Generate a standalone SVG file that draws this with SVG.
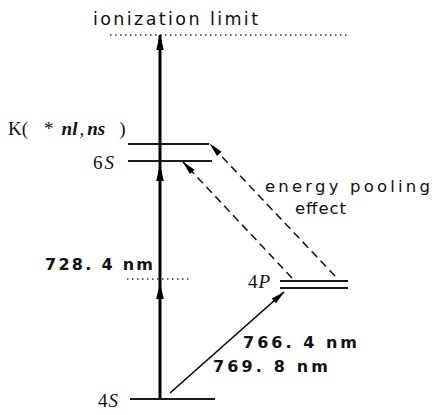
<svg xmlns="http://www.w3.org/2000/svg" width="435" height="415" viewBox="0 0 435 415">
<defs>
<style>
.lvl{stroke:#1a1a1a;stroke-width:2;fill:none}
.dot{stroke:#333;stroke-width:1.3;stroke-dasharray:1.5 3.5;fill:none}
.dash{stroke:#111;stroke-width:1.5;stroke-dasharray:8 5;fill:none}
.lab{font-family:"DejaVu Sans","Liberation Sans",sans-serif;fill:#111}
.ser{font-family:"Liberation Serif","DejaVu Serif",serif;fill:#111}
.num{font-family:"DejaVu Sans","Liberation Sans",sans-serif;font-weight:bold;fill:#111}
</style>
<marker id="ah" viewBox="0 0 16 10" refX="15" refY="5" markerWidth="16" markerHeight="10" markerUnits="userSpaceOnUse" orient="auto">
<path d="M0,1.2 L16,5 L0,8.8 Z" fill="#000"/>
</marker>
<marker id="ahs" viewBox="0 0 16 10" refX="15" refY="5" markerWidth="15" markerHeight="9" markerUnits="userSpaceOnUse" orient="auto">
<path d="M0,1.5 L16,5 L0,8.5 Z" fill="#000"/>
</marker>
</defs>
<rect width="435" height="415" fill="#fff"/>

<g id="ionization-limit">
<line class="dot" x1="110" y1="35" x2="350" y2="35"/>
<text class="lab" x="93" y="25" font-size="17.5" textLength="165" lengthAdjust="spacing">ionization limit</text>
</g>

<g id="K-nl-ns">
<line class="lvl" x1="128" y1="144" x2="209" y2="144"/>
<text class="ser" x="8" y="135" font-size="19">K(<tspan dx="16">*</tspan><tspan dx="8" font-style="italic" font-weight="bold">nl</tspan><tspan dx="2">,</tspan><tspan dx="3" font-style="italic" font-weight="bold">ns</tspan><tspan dx="14">)</tspan></text>
</g>

<g id="level-6S">
<line class="lvl" x1="128" y1="161" x2="212" y2="161"/>
<text class="ser" x="93" y="169" font-size="19" letter-spacing="2">6<tspan font-style="italic">S</tspan></text>
</g>

<g id="virtual-level">
<line class="dot" x1="127" y1="279" x2="192" y2="279"/>
<text class="num" x="45" y="270" font-size="16" textLength="108" lengthAdjust="spacing">728. 4 nm</text>
</g>

<g id="level-4P">
<line class="lvl" x1="280" y1="281" x2="348" y2="281"/>
<line class="lvl" x1="280" y1="288" x2="348" y2="288"/>
<text class="ser" x="248" y="288" font-size="19" letter-spacing="1">4<tspan font-style="italic">P</tspan></text>
</g>

<g id="level-4S">
<line class="lvl" x1="130" y1="399" x2="215" y2="399"/>
<text class="ser" x="98" y="407" font-size="19" letter-spacing="1">4<tspan font-style="italic">S</tspan></text>
</g>

<g id="energy-pooling-label">
<text class="lab" x="265" y="192" font-size="16.5" textLength="165" lengthAdjust="spacing">energy pooling</text>
<text class="lab" x="295" y="214" font-size="16.5" textLength="51" lengthAdjust="spacing">effect</text>
</g>

<g id="wavelength-label">
<text class="num" x="243" y="348" font-size="16" textLength="114" lengthAdjust="spacing">766. 4 nm</text>
<text class="num" x="213" y="372" font-size="16" textLength="115" lengthAdjust="spacing">769. 8 nm</text>
</g>

<g id="connectors">
<path d="M160,399 L160,284 L160,166 L160,35" stroke="#000" stroke-width="3" fill="none" marker-mid="url(#ah)" marker-end="url(#ah)"/>
<line x1="170" y1="393" x2="284" y2="292" stroke="#000" stroke-width="1.6" marker-end="url(#ahs)"/>
<line class="dash" x1="292" y1="278" x2="183" y2="162" marker-end="url(#ahs)"/>
<line class="dash" x1="335" y1="276" x2="210" y2="144" marker-end="url(#ahs)"/>
</g>
</svg>
